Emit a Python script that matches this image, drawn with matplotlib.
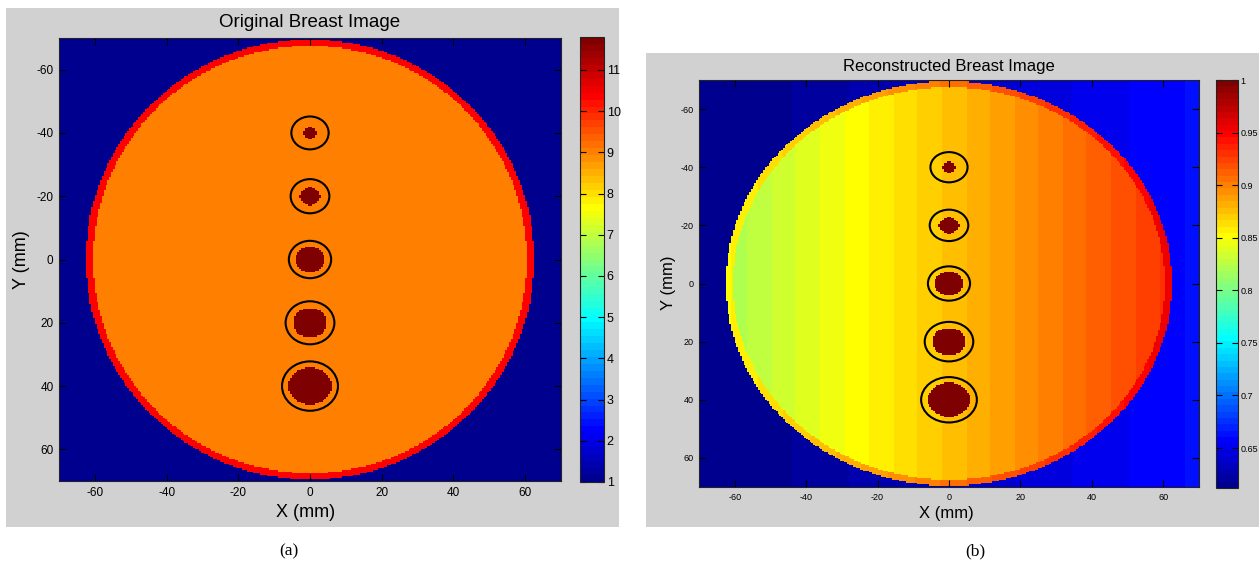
import numpy as np
import matplotlib
matplotlib.use("Agg")
import matplotlib.pyplot as plt
from matplotlib.colors import ListedColormap
from matplotlib.patches import Circle, Rectangle
from matplotlib.ticker import FuncFormatter

plt.rcParams["font.family"] = ["Liberation Sans", "DejaVu Sans"]
plt.rcParams["axes.unicode_minus"] = False

# ---- geometry of the breast phantom (mm) ----
grid_limits = [-70.0, 70.0]
cell_size = 0.5
breast_semi_axes = [62.5, 69.5]          # x, y
skin_thickness = 2.0
tumor_y = [-40, -20, 0, 20, 40]
tumor_r = [1.8, 2.8, 4.0, 4.7, 5.9]
marker_r = [5.2, 5.4, 5.9, 6.8, 7.8]

# ---- original image values ----
orig_background = 1.0
orig_fat = 9.0
orig_skin = 10.4
orig_tumor = 11.8
orig_clim = [1.0, 11.8]
orig_cticks = [1, 2, 3, 4, 5, 6, 7, 8, 9, 10, 11]

# ---- reconstructed image values at x = -70 mm and x = +70 mm ----
recon_background = [0.608, 0.662]
recon_fat = [0.812, 0.937]
recon_skin = [0.847, 0.963]
recon_tumor = 1.0
recon_clim = [0.612, 1.0]
recon_cticks = [0.65, 0.7, 0.75, 0.8, 0.85, 0.9, 0.95, 1.0]

axis_ticks = [-60, -40, -20, 0, 20, 40, 60]
titles = ["Original Breast Image", "Reconstructed Breast Image"]
captions = ["(a)", "(b)"]


def matlab_jet(m=64):
    n = int(np.ceil(m / 4))
    u = np.concatenate([np.arange(1, n + 1) / n, np.ones(n - 1), np.arange(n, 0, -1) / n])
    g = int(np.ceil(n / 2)) - (1 if m % 4 == 1 else 0) + np.arange(1, len(u) + 1)
    r = g + n
    b = g - n
    J = np.zeros((m, 3))
    J[r[r <= m] - 1, 0] = u[r <= m]
    J[g[g <= m] - 1, 1] = u[g <= m]
    J[b[b >= 1] - 1, 2] = u[b >= 1]
    return ListedColormap(J)


jet64 = matlab_jet(64)

# tissue masks on the pixel grid
centers = np.arange(grid_limits[0] + cell_size / 2, grid_limits[1], cell_size)
X, Y = np.meshgrid(centers, centers)
a, b = breast_semi_axes
outer = (X / a) ** 2 + (Y / b) ** 2 <= 1
inner = (X / (a - skin_thickness)) ** 2 + (Y / (b - skin_thickness)) ** 2 <= 1
tumor = np.zeros_like(outer)
for ty, tr in zip(tumor_y, tumor_r):
    tumor |= X ** 2 + (Y - ty) ** 2 <= tr ** 2

orig = np.full(X.shape, orig_background)
orig[outer] = orig_skin
orig[inner] = orig_fat
orig[tumor] = orig_tumor

frac = (X - grid_limits[0]) / (grid_limits[1] - grid_limits[0])


def ramp(ends):
    return ends[0] + (ends[1] - ends[0]) * frac


recon = ramp(recon_background)
recon[outer] = ramp(recon_skin)[outer]
recon[inner] = ramp(recon_fat)[inner]
recon[tumor] = recon_tumor

W, H = 1259, 563
fig = plt.figure(figsize=(W / 100, H / 100), dpi=100)
fig.patch.set_facecolor("white")


def fbox(x0, y0, x1, y1):
    return [x0 / W, 1 - y1 / H, (x1 - x0) / W, (y1 - y0) / H]


panel_color = (0.82, 0.82, 0.82)
for x0, y0, x1, y1 in [(6, 8, 619, 527), (646, 53, 1259, 527)]:
    bx = fbox(x0, y0, x1, y1)
    fig.add_artist(Rectangle((bx[0], bx[1]), bx[2], bx[3], transform=fig.transFigure,
                             facecolor=panel_color, edgecolor="none", zorder=-5))

gfmt = FuncFormatter(lambda v, p: "%g" % v)

layouts = [
    dict(ax=(59, 38, 561, 481), cax=(580, 37, 604, 482), data=orig, clim=orig_clim,
         cticks=orig_cticks, tick_fs=8.5, cb_fs=9, label_fs=13, title_fs=13.5,
         title_xy=(310, 27), xlab_xy=(306, 517), ylab_xy=(22, 260), cap_xy=(289, 555)),
    dict(ax=(699, 80, 1199, 487), cax=(1216, 80, 1238, 488), data=recon, clim=recon_clim,
         cticks=recon_cticks, tick_fs=6.5, cb_fs=6.5, label_fs=12, title_fs=12,
         title_xy=(949, 71), xlab_xy=(946, 518), ylab_xy=(668, 283), cap_xy=(975, 555)),
]

for i, L in enumerate(layouts):
    ax = fig.add_axes(fbox(*L["ax"]))
    im = ax.imshow(L["data"], extent=(grid_limits[0], grid_limits[1], grid_limits[1], grid_limits[0]),
                   aspect="auto", interpolation="nearest", cmap=jet64,
                   vmin=L["clim"][0], vmax=L["clim"][1], zorder=1)
    for ty, mr in zip(tumor_y, marker_r):
        ax.add_patch(Circle((0, ty), mr, fill=False, edgecolor="black", linewidth=1.5, zorder=3))
    ax.set_xlim(grid_limits)
    ax.set_ylim(grid_limits[1], grid_limits[0])
    ax.set_xticks(axis_ticks)
    ax.set_yticks(axis_ticks)
    ax.tick_params(direction="in", top=True, right=True, length=5, width=0.8,
                   labelsize=L["tick_fs"], pad=4, colors="black")
    for s in ax.spines.values():
        s.set_linewidth(0.8)
        s.set_color("#222222")

    cax = fig.add_axes(fbox(*L["cax"]))
    cb = fig.colorbar(im, cax=cax)
    cb.set_ticks(L["cticks"])
    cb.ax.yaxis.set_major_formatter(gfmt)
    cb.outline.set_linewidth(0.8)
    cb.outline.set_edgecolor("#222222")
    cax.tick_params(direction="in", left=True, right=True, length=4, width=0.8,
                    labelsize=L["cb_fs"], pad=2)

    tx, ty_ = L["title_xy"]
    fig.text(tx / W, 1 - ty_ / H, titles[i], ha="center", va="baseline", fontsize=L["title_fs"])
    lx, ly = L["xlab_xy"]
    fig.text(lx / W, 1 - ly / H, "X (mm)", ha="center", va="baseline", fontsize=L["label_fs"])
    yx, yy = L["ylab_xy"]
    fig.text(yx / W, 1 - yy / H, "Y (mm)", ha="center", va="center", rotation=90,
             fontsize=L["label_fs"])
    cx, cy = L["cap_xy"]
    fig.text(cx / W, 1 - cy / H, captions[i], ha="center", va="baseline", fontsize=12.5,
             family=["Liberation Serif", "DejaVu Serif"])

fig.savefig("out.png", dpi=100, facecolor="white")
